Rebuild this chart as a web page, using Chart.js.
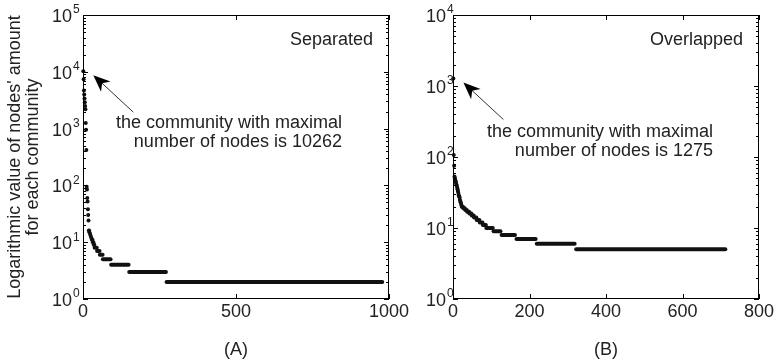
<!DOCTYPE html>
<html>
<head>
<meta charset="utf-8">
<script src="https://cdn.jsdelivr.net/npm/chart.js@4.4.1/dist/chart.umd.min.js"></script>
<style>
  html, body { margin: 0; padding: 0; background: #fff; }
  #wrap { position: relative; width: 774px; height: 364px; }
  canvas { position: absolute; top: 0; }
  #chartA { left: 0; }
  #chartB { left: 374px; }
</style>
</head>
<body>
<div id="wrap">
  <canvas id="chartA" width="430" height="364"></canvas>
  <canvas id="chartB" width="400" height="364"></canvas>
</div>
<script>
// Panel A - separated communities, sorted by size
const headIdxA = [1, 2, 3, 4, 5, 6, 7, 8, 9, 10, 11, 12, 13, 14, 15, 16, 17, 18];
const headValA = [10262, 7400, 4700, 4000, 3400, 2900, 2500, 2200, 1250, 950, 420, 95, 85, 60, 52, 38, 30, 24];
// runs of equal size: level, first index, last index
const runLevelA = [16, 15, 14, 13, 12, 11, 10, 9, 8, 7, 6, 5, 4, 3, 2];
const runStartA = [19, 21, 23, 25, 27, 29, 32, 35, 38, 46, 55, 65, 92, 151, 273];
const runEndA   = [20, 22, 24, 26, 28, 31, 34, 37, 45, 54, 64, 90, 149, 271, 978];
const xTicksA = [0, 500, 1000];
const yDecadesA = [0, 1, 2, 3, 4, 5];

// Panel B - overlapped communities
const headIdxB = [1, 2, 3, 4, 5, 6, 7, 8, 9, 10, 11, 12, 13, 14, 15, 16, 17, 18, 19, 20, 21, 22];
const headValB = [1275, 107, 75, 53, 50, 47, 45, 43, 41, 39, 37, 35, 33, 31, 29, 28, 27, 25, 24, 23, 22, 21];
const runLevelB = [20, 19, 18, 17, 16, 15, 14, 13, 12, 11, 10, 9, 8, 7, 6, 5];
const runStartB = [23, 27, 32, 37, 43, 49, 55, 62, 70, 78, 87, 106, 127, 166, 219, 322];
const runEndB   = [26, 31, 36, 42, 48, 54, 61, 69, 77, 86, 104, 124, 162, 216, 318, 712];
const xTicksB = [0, 200, 400, 600, 800];
const yDecadesB = [0, 1, 2, 3, 4];

const FONT = '"Liberation Sans", Arial, Helvetica, sans-serif';
const INK = '#111';
const TEXT = '#222';

function buildDatasets(headIdx, headVal, levels, starts, ends) {
  const sets = [{
    data: headIdx.map((x, i) => ({ x: x, y: headVal[i] })),
    showLine: false,
    clip: false,
    pointRadius: 2,
    pointBorderWidth: 0,
    pointBackgroundColor: INK
  }];
  levels.forEach((lv, i) => {
    sets.push({
      data: [{ x: starts[i], y: lv }, { x: ends[i], y: lv }],
      showLine: true,
      borderColor: INK,
      borderWidth: 4,
      borderCapStyle: 'round',
      pointRadius: 0
    });
  });
  return sets;
}

// draws the matlab style box, inward ticks, labels and annotations
function framePlugin(cfg) {
  return {
    id: 'frame',
    afterDraw(chart) {
      const ctx = chart.ctx;
      const a = chart.chartArea;
      const xs = chart.scales.x, ys = chart.scales.y;
      ctx.save();
      ctx.strokeStyle = '#000';
      ctx.lineWidth = 1;
      ctx.strokeRect(Math.round(a.left) + 0.5, Math.round(a.top) + 0.5,
        Math.round(a.right - a.left) - 1, Math.round(a.bottom - a.top) - 1);

      ctx.beginPath();
      cfg.yDecades.forEach((k, i) => {
        const y = Math.round(ys.getPixelForValue(Math.pow(10, k))) + 0.5;
        ctx.moveTo(a.left, y); ctx.lineTo(a.left + 5, y);
        ctx.moveTo(a.right, y); ctx.lineTo(a.right - 5, y);
        if (i < cfg.yDecades.length - 1) {
          for (let m = 2; m < 10; m++) {
            const ym = Math.round(ys.getPixelForValue(m * Math.pow(10, k))) + 0.5;
            ctx.moveTo(a.left, ym); ctx.lineTo(a.left + 3, ym);
            ctx.moveTo(a.right, ym); ctx.lineTo(a.right - 3, ym);
          }
        }
      });
      cfg.xTicks.forEach(t => {
        const x = Math.round(xs.getPixelForValue(t)) + 0.5;
        ctx.moveTo(x, a.bottom); ctx.lineTo(x, a.bottom - 5);
        ctx.moveTo(x, a.top); ctx.lineTo(x, a.top + 5);
      });
      ctx.stroke();

      ctx.fillStyle = TEXT;
      // y tick labels 10^k
      cfg.yDecades.forEach(k => {
        const y = ys.getPixelForValue(Math.pow(10, k));
        ctx.font = '18px ' + FONT;
        ctx.textAlign = 'right';
        ctx.textBaseline = 'middle';
        ctx.fillText('10', a.left - cfg.labelGap, y + 2);
        ctx.font = '12px ' + FONT;
        ctx.textAlign = 'left';
        ctx.fillText(String(k), a.left - cfg.labelGap + 1, y - 5);
      });
      // x tick labels
      ctx.font = '18px ' + FONT;
      ctx.textAlign = 'center';
      ctx.textBaseline = 'middle';
      cfg.xTicks.forEach(t => {
        ctx.fillText(String(t), xs.getPixelForValue(t), a.bottom + 13);
      });
      // panel caption
      ctx.fillText(cfg.caption, (a.left + a.right) / 2, a.bottom + 51);
      // panel title
      ctx.textAlign = 'right';
      ctx.fillText(cfg.title, a.right - 16, a.top + 25);
      // note
      ctx.fillText(cfg.note[0], a.left + cfg.noteX, a.top + cfg.noteY);
      ctx.fillText(cfg.note[1], a.left + cfg.noteX, a.top + cfg.noteY + 19);

      // arrow pointing at the biggest community
      const px = xs.getPixelForValue(cfg.peak.x) + 10;
      const py = ys.getPixelForValue(cfg.peak.y) + 4;
      const tx = px + 40, ty = py + 37;
      const ang = Math.atan2(py - ty, px - tx);
      ctx.strokeStyle = '#333';
      ctx.lineWidth = 1;
      ctx.beginPath();
      ctx.moveTo(tx, ty);
      ctx.lineTo(px + Math.cos(ang) * -10, py + Math.sin(ang) * -10);
      ctx.stroke();
      const L = 17, W = 7;
      const bx = px - Math.cos(ang) * L, by = py - Math.sin(ang) * L;
      const nx = -Math.sin(ang), ny = Math.cos(ang);
      const kx = px - Math.cos(ang) * (L - 5), ky = py - Math.sin(ang) * (L - 5);
      ctx.fillStyle = '#000';
      ctx.beginPath();
      ctx.moveTo(px, py);
      ctx.lineTo(bx + nx * W, by + ny * W);
      ctx.lineTo(kx, ky);
      ctx.lineTo(bx - nx * W, by - ny * W);
      ctx.closePath();
      ctx.fill();

      // y axis title (only left panel)
      if (cfg.yTitle) {
        ctx.fillStyle = TEXT;
        ctx.font = '18px ' + FONT;
        ctx.textAlign = 'center';
        ctx.textBaseline = 'middle';
        ctx.translate(15, (a.top + a.bottom) / 2);
        ctx.rotate(-Math.PI / 2);
        ctx.fillText(cfg.yTitle[0], 0, 0);
        ctx.fillText(cfg.yTitle[1], 0, 18);
      }
      ctx.restore();
    }
  };
}

function makeChart(id, sets, xMax, yMax, yWidth, padRight, cfg) {
  return new Chart(document.getElementById(id), {
    type: 'scatter',
    data: { datasets: sets },
    options: {
      responsive: false,
      animation: false,
      devicePixelRatio: 1,
      layout: { padding: { top: 15, right: padRight, left: 0, bottom: 0 } },
      plugins: { legend: { display: false }, tooltip: { enabled: false } },
      scales: {
        x: {
          type: 'linear', min: 0, max: xMax,
          grid: { display: false }, border: { display: false },
          ticks: { display: false },
          afterFit: s => { s.height = 65; }
        },
        y: {
          type: 'logarithmic', min: 1, max: yMax,
          grid: { display: false }, border: { display: false },
          ticks: { display: false },
          afterFit: s => { s.width = yWidth; }
        }
      }
    },
    plugins: [framePlugin(cfg)]
  });
}

makeChart('chartA', buildDatasets(headIdxA, headValA, runLevelA, runStartA, runEndA),
  1000, 1e5, 83, 41, {
    xTicks: xTicksA, yDecades: yDecadesA, labelGap: 11,
    caption: '(A)', title: 'Separated',
    note: ['the community with maximal', 'number of nodes is 10262'],
    noteX: 259, noteY: 108,
    peak: { x: headIdxA[0], y: headValA[0] },
    yTitle: ["Logarithmic value of nodes' amount", 'for each community']
  });

makeChart('chartB', buildDatasets(headIdxB, headValB, runLevelB, runStartB, runEndB),
  800, 1e4, 79, 15, {
    xTicks: xTicksB, yDecades: yDecadesB, labelGap: 7,
    caption: '(B)', title: 'Overlapped',
    note: ['the community with maximal', 'number of nodes is 1275'],
    noteX: 260, noteY: 117,
    peak: { x: headIdxB[0], y: headValB[0] }
  });
</script>
</body>
</html>
